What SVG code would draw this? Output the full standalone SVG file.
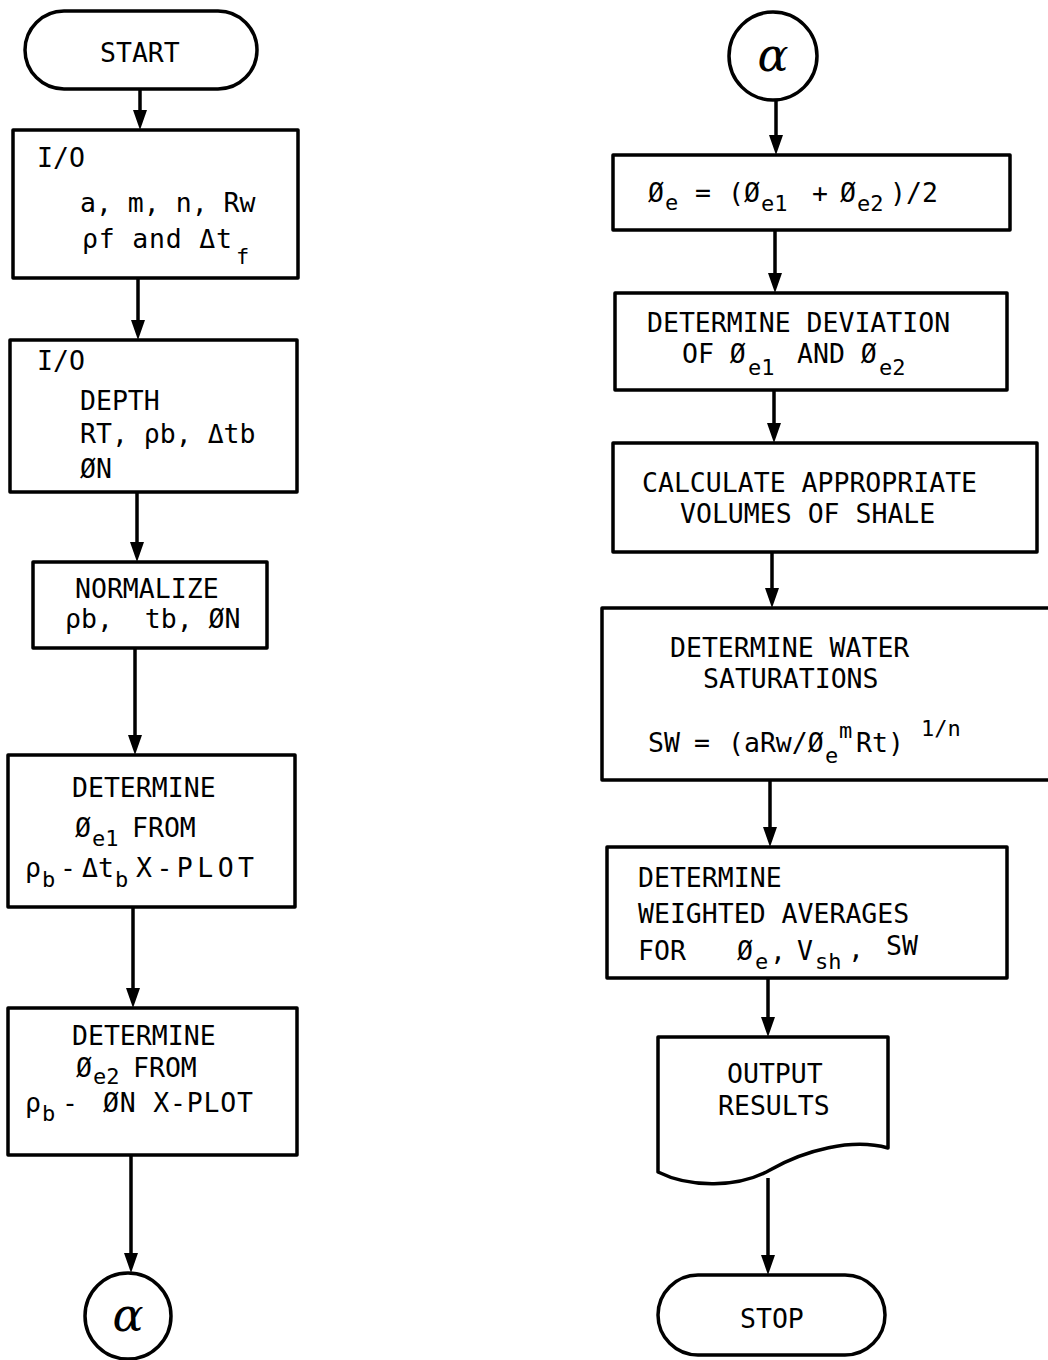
<svg xmlns="http://www.w3.org/2000/svg" width="1048" height="1360" viewBox="0 0 1048 1360">
<style>
.b{fill:#fff;stroke:#000;stroke-width:3.5;stroke-linejoin:round}
.c{stroke:#000;stroke-width:3.5;fill:none}
.t{font-family:"DejaVu Sans Mono","Liberation Mono",monospace;font-size:26.5px;fill:#000}
.s{font-size:22px}
.al{font-family:"DejaVu Serif",serif;font-style:italic;font-size:46px;fill:#000}
</style>
<rect width="1048" height="1360" fill="#fff"/>
<g id="connectors">
<line class="c" x1="140" y1="90" x2="140" y2="112"/>
<path d="M133,110 L147,110 L140,130 Z"/>
<line class="c" x1="138" y1="278" x2="138" y2="322"/>
<path d="M131,320 L145,320 L138,340 Z"/>
<line class="c" x1="137" y1="492" x2="137" y2="544"/>
<path d="M130,542 L144,542 L137,562 Z"/>
<line class="c" x1="135" y1="648" x2="135" y2="737"/>
<path d="M128,735 L142,735 L135,755 Z"/>
<line class="c" x1="133" y1="907" x2="133" y2="990"/>
<path d="M126,988 L140,988 L133,1008 Z"/>
<line class="c" x1="131" y1="1155" x2="131" y2="1255"/>
<path d="M124,1253 L138,1253 L131,1273 Z"/>
<line class="c" x1="776" y1="100" x2="776" y2="137"/>
<path d="M769,135 L783,135 L776,155 Z"/>
<line class="c" x1="775" y1="230" x2="775" y2="275"/>
<path d="M768,273 L782,273 L775,293 Z"/>
<line class="c" x1="774" y1="390" x2="774" y2="425"/>
<path d="M767,423 L781,423 L774,443 Z"/>
<line class="c" x1="772" y1="552" x2="772" y2="590"/>
<path d="M765,588 L779,588 L772,608 Z"/>
<line class="c" x1="770" y1="780" x2="770" y2="829"/>
<path d="M763,827 L777,827 L770,847 Z"/>
<line class="c" x1="768" y1="978" x2="768" y2="1019"/>
<path d="M761,1017 L775,1017 L768,1037 Z"/>
<line class="c" x1="768" y1="1178" x2="768" y2="1257"/>
<path d="M761,1255 L775,1255 L768,1275 Z"/>
</g>
<g id="start">
<rect class="b" x="25" y="11" width="232" height="78" rx="39"/>
<text class="t" x="100" y="62" font-size="27">START</text>
</g>
<g id="io1">
<rect class="b" x="13" y="130" width="285" height="148"/>
<text class="t" x="37" y="167">I/O</text>
<text class="t" x="80" y="212">a, m, n, Rw</text>
<text class="t" x="82" y="248" textLength="150">ρf and Δt</text>
<text class="t s" x="236" y="264">f</text>
</g>
<g id="io2">
<rect class="b" x="10" y="340" width="287" height="152"/>
<text class="t" x="37" y="370">I/O</text>
<text class="t" x="80" y="410">DEPTH</text>
<text class="t" x="80" y="443">RT, ρb, Δtb</text>
<text class="t" x="80" y="478">ØN</text>
</g>
<g id="normalize">
<rect class="b" x="33" y="562" width="234" height="86"/>
<text class="t" x="75" y="598">NORMALIZE</text>
<text class="t" x="65" y="628" xml:space="preserve">ρb,  tb, ØN</text>
</g>
<g id="det1">
<rect class="b" x="8" y="755" width="287" height="152"/>
<text class="t" x="72" y="797">DETERMINE</text>
<text class="t" x="75" y="837">Ø</text>
<text class="t s" x="92" y="846">e1</text>
<text class="t" x="132" y="837">FROM</text>
<text class="t" x="25" y="877">ρ</text>
<text class="t s" x="42" y="887">b</text>
<text class="t" x="60" y="877">-</text>
<text class="t" x="82" y="877">Δt</text>
<text class="t s" x="115" y="887">b</text>
<text class="t" x="136" y="877" textLength="118">X-PLOT</text>
</g>
<g id="det2">
<rect class="b" x="8" y="1008" width="289" height="147"/>
<text class="t" x="72" y="1045">DETERMINE</text>
<text class="t" x="76" y="1077">Ø</text>
<text class="t s" x="93" y="1084">e2</text>
<text class="t" x="133" y="1077">FROM</text>
<text class="t" x="25" y="1112">ρ</text>
<text class="t s" x="42" y="1121">b</text>
<text class="t" x="62" y="1112">-</text>
<text class="t" x="103" y="1112" textLength="150" xml:space="preserve">ØN X-PLOT</text>
</g>
<g id="alpha1">
<circle class="b" cx="128" cy="1316" r="43"/>
<text class="al" x="128" y="1331" text-anchor="middle">α</text>
</g>
<g id="alpha2">
<circle class="b" cx="773" cy="56" r="44"/>
<text class="al" x="773" y="71" text-anchor="middle">α</text>
</g>
<g id="avg">
<rect class="b" x="613" y="155" width="397" height="75"/>
<text class="t" x="648" y="202">Ø</text>
<text class="t s" x="665" y="210">e</text>
<text class="t" x="695" y="202">=</text>
<text class="t" x="728" y="202">(Ø</text>
<text class="t s" x="761" y="211">e1</text>
<text class="t" x="812" y="202">+</text>
<text class="t" x="840" y="202">Ø</text>
<text class="t s" x="857" y="211">e2</text>
<text class="t" x="890" y="202">)/2</text>
</g>
<g id="deviation">
<rect class="b" x="615" y="293" width="392" height="97"/>
<text class="t" x="647" y="332">DETERMINE DEVIATION</text>
<text class="t" x="682" y="363">OF Ø</text>
<text class="t s" x="748" y="375">e1</text>
<text class="t" x="797" y="363">AND Ø</text>
<text class="t s" x="879" y="375">e2</text>
</g>
<g id="shale">
<rect class="b" x="613" y="443" width="424" height="109"/>
<text class="t" x="642" y="492">CALCULATE APPROPRIATE</text>
<text class="t" x="680" y="523">VOLUMES OF SHALE</text>
</g>
<g id="water">
<rect class="b" x="602" y="608" width="460" height="172"/>
<text class="t" x="670" y="657">DETERMINE WATER</text>
<text class="t" x="703" y="688">SATURATIONS</text>
<text class="t" x="648" y="752">SW</text>
<text class="t" x="694" y="752">=</text>
<text class="t" x="728" y="752">(aRw/Ø</text>
<text class="t s" x="825" y="763">e</text>
<text class="t s" x="839" y="738">m</text>
<text class="t" x="856" y="752">Rt)</text>
<text class="t s" x="921" y="736">1/n</text>
</g>
<g id="weighted">
<rect class="b" x="607" y="847" width="400" height="131"/>
<text class="t" x="638" y="887">DETERMINE</text>
<text class="t" x="638" y="923">WEIGHTED AVERAGES</text>
<text class="t" x="638" y="960">FOR</text>
<text class="t" x="737" y="960">Ø</text>
<text class="t s" x="755" y="969">e</text>
<text class="t" x="770" y="960">,</text>
<text class="t" x="797" y="960">V</text>
<text class="t s" x="815" y="969">sh</text>
<text class="t" x="848" y="958">,</text>
<text class="t" x="886" y="955">SW</text>
</g>
<g id="output">
<path class="b" d="M658,1037 H888 V1148 C852,1138 805,1150 770,1170 C738,1188 690,1188 658,1172 Z"/>
<text class="t" x="727" y="1083">OUTPUT</text>
<text class="t" x="718" y="1115">RESULTS</text>
</g>
<g id="stop">
<rect class="b" x="658" y="1275" width="227" height="80" rx="40"/>
<text class="t" x="740" y="1328">STOP</text>
</g>
</svg>
